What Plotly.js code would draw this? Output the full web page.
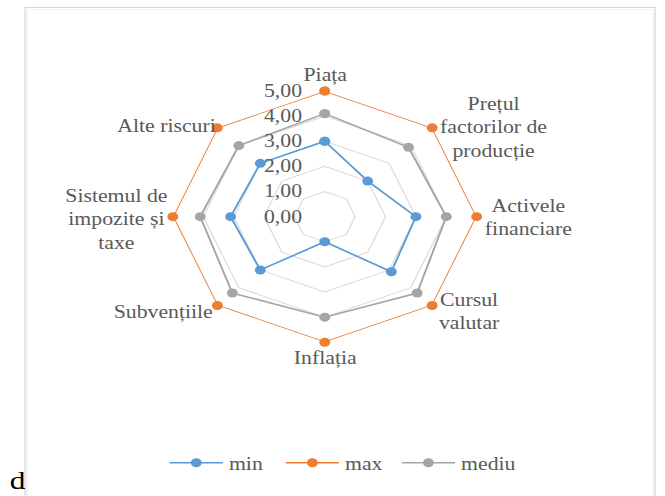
<!DOCTYPE html>
<html><head><meta charset="utf-8">
<script src="https://cdn.plot.ly/plotly-3.0.1.min.js"></script>
<style>
html,body{margin:0;padding:0;background:#fff;overflow:hidden}
#wrap{width:665px;height:496px;overflow:hidden;position:relative}
#chart{width:550px;height:496px;transform:scaleX(1.2091);transform-origin:0 0}
</style></head>
<body><div id="wrap"><div id="chart"></div></div>
<script>
const categories = ["Piața","Prețul<br>factorilor de<br>producție","Activele<br>financiare","Cursul<br>valutar","Inflația","Subvențiile","Sistemul de<br>impozite și<br>taxe","Alte riscuri"];
const minValues = [3.0, 2.0, 3.0, 3.1, 1.0, 3.0, 3.1, 3.0];
const maxValues = [5, 5, 5, 5, 5, 5, 5, 5];
const medValues = [4.1, 3.9, 4.0, 4.3, 4.0, 4.3, 4.1, 4.0];
const radialTicks = [0, 1, 2, 3, 4, 5];
const seriesNames = ["min", "max", "mediu"];
const seriesColors = ["#5b9bd5", "#ed7d31", "#a5a5a5"];
const legendWidths = [37, 37, 52];

const FONT = "Liberation Serif";
const W = 550, H = 496;
const closeLoop = a => a.concat([a[0]]);
const theta = closeLoop(categories);

const traces = [minValues, maxValues, medValues].map((vals, i) => ({
  type: "scatterpolar",
  r: closeLoop(vals),
  theta: theta,
  name: seriesNames[i],
  mode: "lines+markers",
  line: {color: seriesColors[i], width: 1.6},
  marker: {color: seriesColors[i], size: 9},
  legendwidth: legendWidths[i],
  hoverinfo: "skip"
}));

// category label placement (text only): [x px, y px, xanchor]
const labelPlace = [
  [268.8, 75, "center"],
  [363, 127, "left"],
  [400, 218, "left"],
  [362, 311, "left"],
  [268.8, 358, "center"],
  [177, 312, "right"],
  [140, 219, "right"],
  [178.5, 126, "right"]
];
const catAnnotations = categories.map((c, i) => ({
  text: c, xref: "paper", yref: "paper",
  x: labelPlace[i][0] / W, y: 1 - labelPlace[i][1] / H,
  xanchor: labelPlace[i][2], yanchor: "middle", align: "center",
  showarrow: false, borderpad: 0,
  font: {family: FONT, size: 18, color: "#595959"}
}));

const layout = {
  width: W, height: H,
  margin: {l: 0, r: 0, t: 0, b: 0},
  paper_bgcolor: "#ffffff",
  separators: ",.",
  font: {family: FONT, color: "#595959", size: 18},
  showlegend: true,
  legend: {
    orientation: "h", x: 0.5215, xanchor: "center", y: 0.0665, yanchor: "middle",
    font: {family: FONT, size: 18, color: "#595959"},
    itemwidth: 44, entrywidthmode: "pixels",
    bgcolor: "rgba(0,0,0,0)"
  },
  polar: {
    domain: {x: [0.2599, 0.7168], y: [0.3099, 0.8165]},
    gridshape: "linear",
    bgcolor: "rgba(0,0,0,0)",
    radialaxis: {
      range: [0, 5], tickvals: radialTicks, tickformat: ".2f",
      angle: 90, side: "counterclockwise", tickangle: 90,
      showline: false, ticks: "outside", ticklen: 12, tickcolor: "rgba(0,0,0,0)",
      gridcolor: "#d9d9d9", gridwidth: 1,
      tickfont: {family: FONT, size: 18, color: "#595959"}
    },
    angularaxis: {
      direction: "clockwise", rotation: 90,
      showgrid: false, showline: false, ticks: "", showticklabels: false
    }
  },
  shapes: [
    {type: "rect", xref: "paper", yref: "paper", x0: 20.7/W, x1: 541.8/W, y0: -0.05, y1: 1 - 7.5/H,
     line: {color: "#d6d6d6", width: 1}, fillcolor: "rgba(0,0,0,0)"},
    {type: "rect", xref: "paper", yref: "paper", x0: 22.4/W, x1: 540.2/W, y0: -0.05, y1: 1 - 9.5/H,
     line: {color: "#f0f0f0", width: 1}, fillcolor: "rgba(0,0,0,0)"}
  ],
  annotations: catAnnotations.concat([
    {text: "d", xref: "paper", yref: "paper", x: 7/W, y: 0.0, xanchor: "left", yanchor: "bottom",
     showarrow: false, borderpad: 0, font: {family: FONT, size: 26, color: "#000000"}}
  ])
};

Plotly.newPlot("chart", traces, layout, {staticPlot: true, displayModeBar: false});
</script>
</body></html>
